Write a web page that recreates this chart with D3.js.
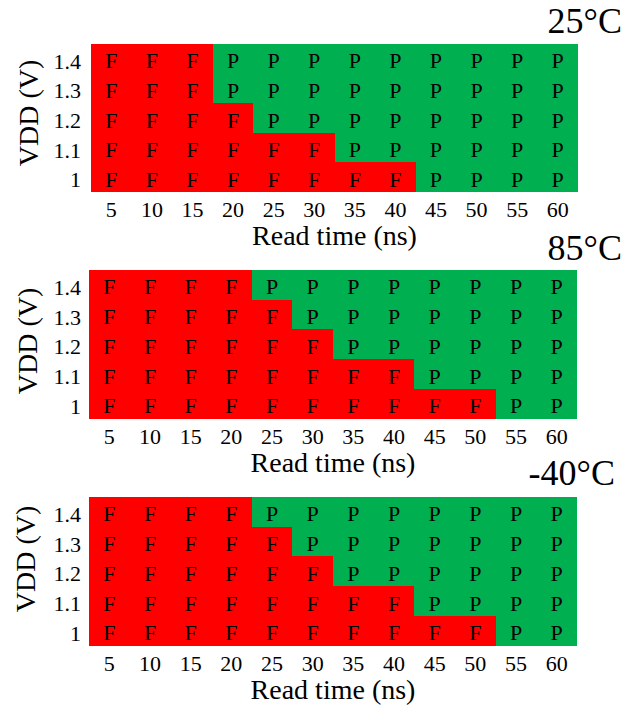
<!DOCTYPE html>
<html>
<head>
<meta charset="utf-8">
<script src="https://cdn.jsdelivr.net/npm/d3@7"></script>
<style>
  body { margin: 0; background: #fff; }
  svg { display: block; }
</style>
</head>
<body>
<svg id="chart" width="636" height="706"></svg>
<script>
// Read time sweep (ns) and supply voltage levels (V), top row first
const readTimes = [5, 10, 15, 20, 25, 30, 35, 40, 45, 50, 55, 60];
const vddLevels = [1.4, 1.3, 1.2, 1.1, 1];
const vddTickLabels = ["1.4", "1.3", "1.2", "1.1", "1"];
const temperatures = ["25°C", "85°C", "-40°C"];

// Shmoo results per temperature: one string per VDD row, one char per read time
const shmoo25C = [
  "FFFPPPPPPPPP",
  "FFFPPPPPPPPP",
  "FFFFPPPPPPPP",
  "FFFFFFPPPPPP",
  "FFFFFFFFPPPP"
];
const shmoo85C = [
  "FFFFPPPPPPPP",
  "FFFFFPPPPPPP",
  "FFFFFFPPPPPP",
  "FFFFFFFFPPPP",
  "FFFFFFFFFFPP"
];
const shmooMinus40C = [
  "FFFFPPPPPPPP",
  "FFFFFPPPPPPP",
  "FFFFFFPPPPPP",
  "FFFFFFFFPPPP",
  "FFFFFFFFFFPP"
];
const shmooResults = [shmoo25C, shmoo85C, shmooMinus40C];

// Panel placement on the page
const layout = [
  { left: 91, right: 578, top: 44,  bottom: 192,   titleX: 622, titleY: 33,  vddX: 38, vddY: 113 },
  { left: 89, right: 577, top: 270, bottom: 418.7, titleX: 622, titleY: 260, vddX: 37, vddY: 341 },
  { left: 89, right: 577, top: 497, bottom: 645.7, titleX: 615, titleY: 485, vddX: 35, vddY: 559 }
];

const FONT = "'Liberation Serif', 'Times New Roman', Times, serif";
const colors = { F: "#ff0000", P: "#00b050" };

const svg = d3.select("#chart");

temperatures.forEach((temp, i) => {
  const L = layout[i];
  const rows = shmooResults[i];

  const x = d3.scaleBand().domain(readTimes).range([L.left, L.right]).padding(0);
  const y = d3.scaleBand().domain(vddLevels).range([L.top, L.bottom]).padding(0);

  const g = svg.append("g").attr("class", "panel");

  // Cells
  const cells = [];
  vddLevels.forEach((v, r) => {
    readTimes.forEach((t, c) => {
      cells.push({ vdd: v, time: t, result: rows[r][c] });
    });
  });

  g.append("g")
    .selectAll("rect")
    .data(cells)
    .join("rect")
    .attr("x", d => x(d.time))
    .attr("y", d => y(d.vdd))
    .attr("width", x.bandwidth())
    .attr("height", y.bandwidth())
    .attr("fill", d => colors[d.result])
    .attr("shape-rendering", "crispEdges");

  g.append("g")
    .selectAll("text")
    .data(cells)
    .join("text")
    .attr("x", d => x(d.time) + x.bandwidth() / 2)
    .attr("y", d => y(d.vdd) + y.bandwidth() / 2 + 9.5)
    .attr("text-anchor", "middle")
    .attr("font-family", FONT)
    .attr("font-size", 22)
    .attr("fill", "#000")
    .text(d => d.result);

  // X axis
  const xAxis = g.append("g")
    .attr("transform", `translate(0,${L.bottom})`)
    .call(d3.axisBottom(x).tickSize(0).tickSizeOuter(0));
  xAxis.select(".domain").remove();
  xAxis.selectAll("text")
    .attr("y", 25)
    .attr("dy", null)
    .attr("font-family", FONT)
    .attr("font-size", 22)
    .attr("fill", "#000");

  // Y axis
  const yAxis = g.append("g")
    .attr("transform", `translate(${L.left},0)`)
    .call(d3.axisLeft(y).tickSize(0).tickSizeOuter(0)
      .tickFormat((d, k) => vddTickLabels[k]));
  yAxis.select(".domain").remove();
  yAxis.selectAll("text")
    .attr("x", 81 - L.left)
    .attr("dy", null)
    .attr("y", 10)
    .attr("font-family", FONT)
    .attr("font-size", 22)
    .attr("fill", "#000");

  // Axis titles
  g.append("text")
    .attr("x", (L.left + L.right) / 2)
    .attr("y", L.bottom + 53)
    .attr("text-anchor", "middle")
    .attr("font-family", FONT)
    .attr("font-size", 28)
    .attr("fill", "#000")
    .text("Read time (ns)");

  g.append("text")
    .attr("transform", `translate(${L.vddX},${L.vddY}) rotate(-90)`)
    .attr("text-anchor", "middle")
    .attr("font-family", FONT)
    .attr("font-size", 28)
    .attr("fill", "#000")
    .text("VDD (V)");

  // Temperature title
  g.append("text")
    .attr("x", L.titleX)
    .attr("y", L.titleY)
    .attr("text-anchor", "end")
    .attr("font-family", FONT)
    .attr("font-size", 36)
    .attr("fill", "#000")
    .text(temp);
});
</script>
</body>
</html>
